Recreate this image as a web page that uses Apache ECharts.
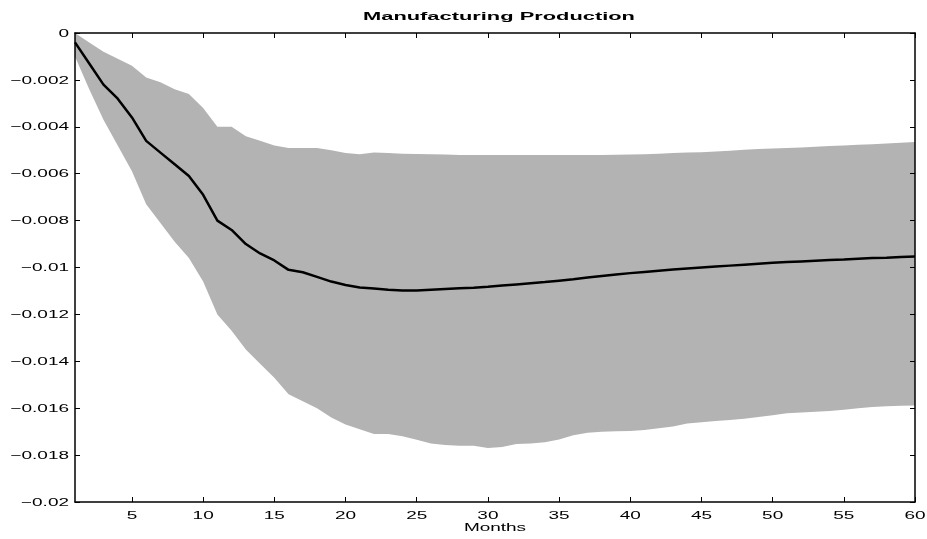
<!DOCTYPE html>
<html><head><meta charset="utf-8">
<script src="https://cdn.jsdelivr.net/npm/echarts@6/dist/echarts.min.js"></script>
<style>html,body{margin:0;padding:0;background:#fff}#c{width:927px;height:539px}</style>
</head><body><div id="c"></div>
<script>
const months = Array.from({length:60},(_,i)=>i+1);
const meanVals = [-0.0004,-0.0013,-0.0022,-0.0028,-0.0036,-0.0046,-0.0051,-0.0056,-0.0061,-0.0069,
 -0.0080,-0.0084,-0.0090,-0.0094,-0.0097,-0.0101,-0.0102,-0.0104,-0.0106,-0.01075,
 -0.01085,-0.0109,-0.01095,-0.01098,-0.01098,-0.01095,-0.01092,-0.01089,-0.01086,-0.01082,
 -0.01077,-0.01072,-0.01067,-0.01062,-0.01056,-0.0105,-0.01043,-0.01036,-0.0103,-0.01024,
 -0.01019,-0.01014,-0.01009,-0.01004,-0.01,-0.00996,-0.00992,-0.00988,-0.00984,-0.0098,
 -0.00977,-0.00974,-0.00971,-0.00968,-0.00966,-0.00963,-0.0096,-0.00958,-0.00955,-0.00953];
const upperVals = [0,-0.0004,-0.0008,-0.0011,-0.0014,-0.0019,-0.0021,-0.0024,-0.0026,-0.0032,
 -0.0040,-0.0040,-0.0044,-0.0046,-0.0048,-0.0049,-0.0049,-0.0049,-0.0050,-0.00512,
 -0.00517,-0.0051,-0.00512,-0.00515,-0.00516,-0.00517,-0.00518,-0.0052,-0.0052,-0.0052,
 -0.0052,-0.0052,-0.0052,-0.0052,-0.0052,-0.0052,-0.0052,-0.0052,-0.00519,-0.00518,
 -0.00517,-0.00515,-0.00512,-0.0051,-0.00508,-0.00505,-0.00502,-0.00498,-0.00495,-0.00493,
 -0.0049,-0.00488,-0.00485,-0.00482,-0.0048,-0.00477,-0.00474,-0.00471,-0.00468,-0.00465];
const lowerVals = [-0.0010,-0.0024,-0.0037,-0.0048,-0.0059,-0.0073,-0.0081,-0.0089,-0.0096,-0.0106,
 -0.0120,-0.0127,-0.0135,-0.0141,-0.0147,-0.0154,-0.0157,-0.0160,-0.0164,-0.0167,
 -0.0169,-0.0171,-0.0171,-0.0172,-0.01735,-0.0175,-0.01757,-0.0176,-0.0176,-0.0177,
 -0.01765,-0.01753,-0.0175,-0.01745,-0.01733,-0.01715,-0.01705,-0.017,-0.01698,-0.01697,
 -0.01693,-0.01685,-0.01678,-0.01665,-0.0166,-0.01655,-0.0165,-0.01645,-0.01637,-0.0163,
 -0.01622,-0.01618,-0.01615,-0.01612,-0.01607,-0.016,-0.01595,-0.01592,-0.0159,-0.01588];
const xTicks = [5,10,15,20,25,30,35,40,45,50,55,60];
const yTicks = [0,-0.002,-0.004,-0.006,-0.008,-0.01,-0.012,-0.014,-0.016,-0.018,-0.02];
const yTickLabels = ['0','\u22120.002','\u22120.004','\u22120.006','\u22120.008','\u22120.01','\u22120.012','\u22120.014','\u22120.016','\u22120.018','\u22120.02'];
const titleText = 'Manufacturing Production';
const xName = 'Months';

const FONT = '"Liberation Sans", Arial, Helvetica, sans-serif';
const SX = 1.65;      // horizontal stretch of the reference's lettering
const SX_TITLE = 1.9;
const chart = echarts.init(document.getElementById('c'), null, {renderer:'canvas'});
const tickStyle = {show:true, inside:true, length:5, lineStyle:{color:'#000', width:1}};
const lineStyle = {show:true, onZero:false, lineStyle:{color:'#000', width:1.5}};
const bandData = months.map((m,i)=>[m, lowerVals[i], upperVals[i]]);

chart.setOption({
  animation:false,
  backgroundColor:'#fff',
  grid:{left:75, right:12, top:33, bottom:37, containLabel:false},
  xAxis:[
    {type:'value', min:1, max:60, position:'bottom', z:5,
      axisLine:lineStyle, splitLine:{show:false},
      axisTick:Object.assign({customValues:xTicks}, tickStyle),
      axisLabel:{show:false}},
    {type:'value', min:1, max:60, position:'top', z:5,
      axisLine:lineStyle, splitLine:{show:false},
      axisTick:Object.assign({customValues:xTicks}, tickStyle),
      axisLabel:{show:false}}
  ],
  yAxis:[
    {type:'value', min:-0.02, max:0, interval:0.002, position:'left', z:5,
      axisLine:lineStyle, splitLine:{show:false}, axisTick:tickStyle, axisLabel:{show:false}},
    {type:'value', min:-0.02, max:0, interval:0.002, position:'right', z:5,
      axisLine:lineStyle, splitLine:{show:false}, axisTick:tickStyle, axisLabel:{show:false}}
  ],
  series:[
    {type:'custom', name:'band', data:bandData, silent:true, z:1, clip:true,
     encode:{x:0, y:[1,2]},
     renderItem:function(params, api){
       if (params.dataIndex !== 0) return null;
       const pts = [];
       for (let i=0;i<bandData.length;i++) pts.push(api.coord([bandData[i][0], bandData[i][2]]));
       for (let i=bandData.length-1;i>=0;i--) pts.push(api.coord([bandData[i][0], bandData[i][1]]));
       return {type:'polygon', shape:{points:pts}, style:{fill:'#b3b3b3', stroke:null}};
     }},
    {type:'line', name:'mean', data:months.map((m,i)=>[m, meanVals[i]]), symbol:'none',
     lineStyle:{color:'#000', width:2.5}, z:3}
  ]
});

// Text (stretched horizontally like the reference), positioned through the axes' scales
const g = [];
const font = '11.5px ' + FONT;
yTicks.forEach((v,i)=>{
  const p = chart.convertToPixel({xAxisIndex:0, yAxisIndex:0}, [1, v]);
  g.push({type:'text', x:p[0]-6, y:p[1]+0.5, scaleX:SX, silent:true,
    style:{text:yTickLabels[i], font:font, fill:'#000', align:'right', verticalAlign:'middle'}});
});
xTicks.forEach(v=>{
  const p = chart.convertToPixel({xAxisIndex:0, yAxisIndex:0}, [v, -0.02]);
  g.push({type:'text', x:p[0], y:p[1]+14, scaleX:SX, silent:true,
    style:{text:String(v), font:font, fill:'#000', align:'center', verticalAlign:'middle'}});
});
const pL = chart.convertToPixel({xAxisIndex:0, yAxisIndex:0}, [1, -0.02]);
const pR = chart.convertToPixel({xAxisIndex:0, yAxisIndex:0}, [60, 0]);
const cx = (pL[0] + pR[0]) / 2;
g.push({type:'text', x:cx, y:pL[1]+26, scaleX:SX, silent:true,
  style:{text:xName, font:font, fill:'#000', align:'center', verticalAlign:'middle'}});
g.push({type:'text', x:cx+4, y:pR[1]-16, scaleX:SX_TITLE, silent:true,
  style:{text:titleText, font:'bold 11.5px ' + FONT, fill:'#000', align:'center', verticalAlign:'middle'}});
chart.setOption({graphic:g});
</script></body></html>
